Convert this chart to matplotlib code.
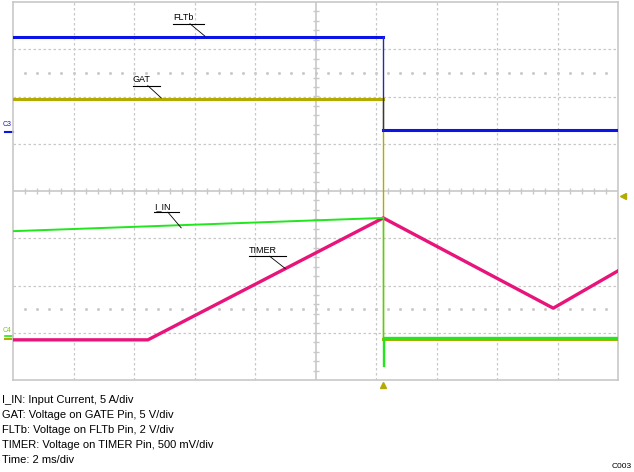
import numpy as np
import matplotlib
matplotlib.use("Agg")
import matplotlib.pyplot as plt

plt.rcParams['font.family'] = ['Liberation Sans', 'DejaVu Sans']

# time in divisions (2 ms/div), amplitude in screen divisions from bottom
fltb_t = [0.0, 6.12, 6.12, 10.0]
fltb_v = [7.26, 7.26, 5.29, 5.29]

gat_t = [0.0, 6.12, 6.12, 10.0]
gat_v = [5.95, 5.95, 0.87, 0.87]

iin_t = [0.0, 6.12, 6.12, 6.14, 6.14, 10.0]
iin_v = [3.15, 3.43, 0.30, 0.30, 0.89, 0.89]

timer_t = [0.0, 2.23, 6.12, 8.93, 10.0]
timer_v = [0.85, 0.85, 3.43, 1.52, 2.31]

notes = ["I_IN: Input Current, 5 A/div",
         "GAT: Voltage on GATE Pin, 5 V/div",
         "FLTb: Voltage on FLTb Pin, 2 V/div",
         "TIMER: Voltage on TIMER Pin, 500 mV/div",
         "Time: 2 ms/div"]

blue = '#0a14e6'
olive = '#b4aa00'
green = '#22e61e'
pink = '#e8147a'
grid_c = '#c8c8c8'

fig = plt.figure(figsize=(6.34, 4.72), dpi=100)
ax = fig.add_axes([13/634, 92/472, 605/634, 378/472])
ax.set_xlim(0, 10)
ax.set_ylim(0, 8)
ax.set_xticks([])
ax.set_yticks([])
for s in ax.spines.values():
    s.set_color(grid_c)
    s.set_linewidth(1.2)

# graticule
for i in range(1, 10):
    if i != 5:
        ax.axvline(i, color=grid_c, lw=0.9, ls=(0, (2, 2)), zorder=1)
for j in range(1, 8):
    if j != 4:
        ax.axhline(j, color=grid_c, lw=0.9, ls=(0, (2, 2)), zorder=1)
ax.axvline(5, color=grid_c, lw=1.2, zorder=1)
ax.axhline(4, color=grid_c, lw=1.2, zorder=1)
dx = np.arange(0.2, 10, 0.2)
for j in [1.5, 6.5]:
    ax.plot(dx, np.full(len(dx), j), ls='none', marker='s',
            ms=1.0, color=grid_c, zorder=1)
ax.plot(dx, np.full(len(dx), 4), ls='none', marker='|', ms=4, color=grid_c, zorder=1)
my = np.arange(0.2, 8, 0.2)
ax.plot(np.full(len(my), 5), my, ls='none', marker='_', ms=4, color=grid_c, zorder=1)

# traces: flat parts thick, vertical edges thin
ax.plot(gat_t[:2], gat_v[:2], color=olive, lw=2.2, zorder=3)
ax.plot(gat_t[2:], gat_v[2:], color=olive, lw=2.2, zorder=3)
ax.plot(gat_t[1:3], gat_v[1:3], color=olive, lw=1.0, zorder=3)
ax.plot(fltb_t[:2], fltb_v[:2], color=blue, lw=2.2, zorder=4)
ax.plot(fltb_t[2:], fltb_v[2:], color=blue, lw=2.2, zorder=4)
ax.plot(fltb_t[1:3], fltb_v[1:3], color='#2a2aa8', lw=1.0, zorder=4)
ax.plot(timer_t, timer_v, color=pink, lw=2.4, zorder=3)
ax.plot(iin_t[:2], iin_v[:2], color=green, lw=1.4, zorder=4)
ax.plot(iin_t[1:5], iin_v[1:5], color=green, lw=1.0, zorder=4)
ax.plot(iin_t[4:], iin_v[4:], color=green, lw=2.4, zorder=4)

# trace labels with underline and leader
def tag(txt, x, y, px, py, w):
    ax.text(x, y, txt, fontsize=6.5, ha='left', va='bottom', zorder=6)
    ax.plot([x, x + w], [y - 0.03, y - 0.03], color='k', lw=0.8, zorder=6)
    ax.plot([x + w * 0.55, px], [y - 0.03, py], color='k', lw=0.6, zorder=6)

tag('FLTb', 2.65, 7.57, 3.17, 7.28, 0.5)
tag('GAT', 1.98, 6.26, 2.45, 5.97, 0.45)
tag('I_IN', 2.33, 3.58, 2.78, 3.22, 0.42)
tag('TIMER', 3.9, 2.65, 4.5, 2.36, 0.62)

# channel markers
ax.text(-0.03, 5.33, 'C3', color=blue, fontsize=5, ha='right', va='bottom',
        clip_on=False)
ax.plot([-0.13, 0], [5.24, 5.24], color=blue, lw=1.5, clip_on=False)
ax.text(-0.03, 0.97, 'C4', color='#7cc81a', fontsize=5, ha='right', va='bottom',
        clip_on=False)
ax.plot([-0.13, 0], [0.87, 0.87], color=olive, lw=1.5, clip_on=False)
ax.plot([-0.13, 0], [0.93, 0.93], color=green, lw=1.2, clip_on=False)
ax.plot([10.08], [3.9], marker='<', ms=5, color=olive, clip_on=False)
ax.plot([6.12], [-0.1], marker='^', ms=5, color=olive, clip_on=False)

for k, line in enumerate(notes):
    fig.text(2/634, 1 - (400 + 15*k)/472, line, fontsize=8, va='center', ha='left')
fig.text(632/634, 1 - 466/472, 'C003', fontsize=6, ha='right', va='center')

fig.savefig('out.png', dpi=100)
